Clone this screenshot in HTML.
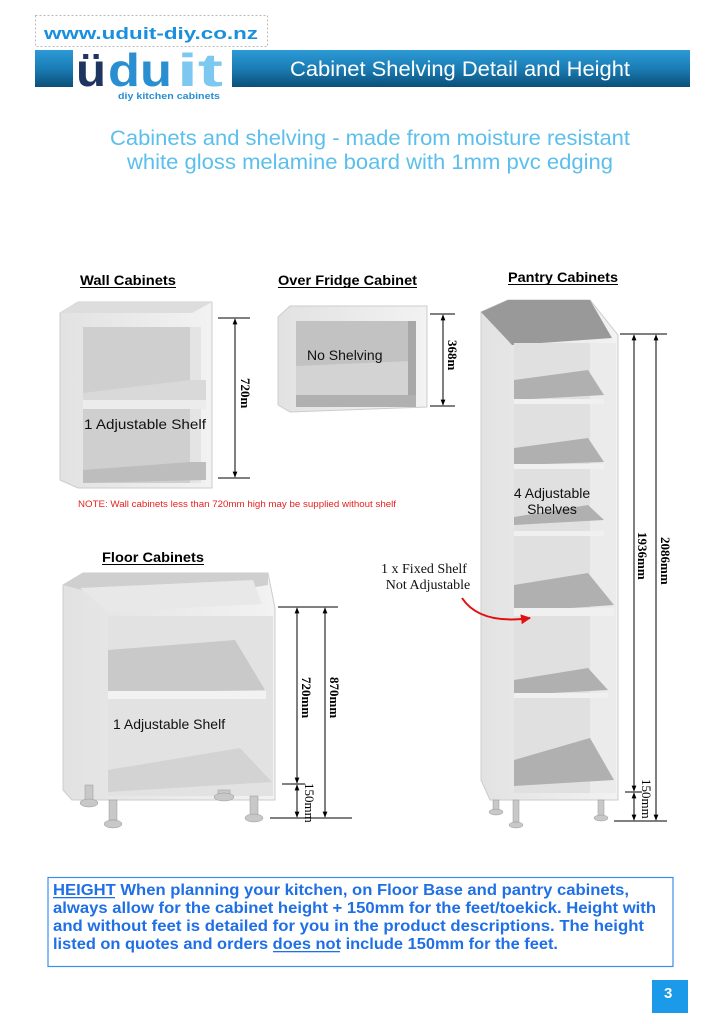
<!DOCTYPE html>
<html><head><meta charset="utf-8"><style>
html,body{margin:0;padding:0;background:#fff}
svg{display:block}
text{font-family:"Liberation Sans",sans-serif}
.serif{font-family:"Liberation Serif",serif}
</style></head><body>
<svg width="724" height="1024" viewBox="0 0 724 1024" xmlns="http://www.w3.org/2000/svg">
<defs>
<linearGradient id="bn" x1="0" y1="0" x2="0" y2="1">
<stop offset="0" stop-color="#2d9ad6"/><stop offset="0.5" stop-color="#1a7db5"/><stop offset="1" stop-color="#0c4f78"/>
</linearGradient>
<linearGradient id="side" x1="0" y1="0" x2="1" y2="0">
<stop offset="0" stop-color="#e2e2e2"/><stop offset="1" stop-color="#f2f2f2"/>
</linearGradient>
<marker id="ar" viewBox="0 0 10 10" refX="9" refY="5" markerWidth="6" markerHeight="6" orient="auto-start-reverse"><path d="M0,1 L10,5 L0,9 z" fill="#000"/></marker>
<marker id="rar" viewBox="0 0 10 10" refX="9" refY="5" markerWidth="5" markerHeight="5" orient="auto"><path d="M0,0 L10,5 L0,10 z" fill="#e01010"/></marker>
</defs>

<!-- header -->
<rect x="35.5" y="15.5" width="232" height="31" fill="none" stroke="#bbb" stroke-dasharray="2,2"/>
<text x="151" y="39" text-anchor="middle" font-size="17" font-weight="bold" fill="#1a8fe0" textLength="214" lengthAdjust="spacingAndGlyphs">www.uduit-diy.co.nz</text>
<rect x="35" y="50" width="38" height="37" fill="url(#bn)"/>
<rect x="232" y="50" width="458" height="37" fill="url(#bn)"/>
<text x="76" y="86" font-size="46" font-weight="bold" fill="#1e3560" textLength="30" lengthAdjust="spacingAndGlyphs">ü</text>
<text x="108" y="86" font-size="46" font-weight="bold" fill="#2a8fd0" textLength="64" lengthAdjust="spacingAndGlyphs">du</text>
<text x="177" y="86" font-size="46" font-weight="bold" fill="#7cc8f0" textLength="46" lengthAdjust="spacingAndGlyphs">it</text>
<text x="118" y="99" font-size="9" font-weight="bold" fill="#2a8fd0" textLength="102" lengthAdjust="spacingAndGlyphs">diy kitchen cabinets</text>
<text x="460" y="76" text-anchor="middle" font-size="21" fill="#fff" textLength="340" lengthAdjust="spacingAndGlyphs">Cabinet Shelving Detail and Height</text>

<text x="370" y="145" text-anchor="middle" font-size="21" fill="#5bbfec" textLength="520" lengthAdjust="spacingAndGlyphs">Cabinets and shelving - made from moisture resistant</text>
<text x="370" y="169" text-anchor="middle" font-size="21" fill="#5bbfec" textLength="486" lengthAdjust="spacingAndGlyphs">white gloss melamine board with 1mm pvc edging</text>

<!-- headings -->
<g font-size="14" font-weight="bold" fill="#000">
<text x="80" y="285" textLength="96" lengthAdjust="spacingAndGlyphs">Wall Cabinets</text><rect x="80" y="287" width="96" height="1"/>
<text x="278" y="285" textLength="139" lengthAdjust="spacingAndGlyphs">Over Fridge Cabinet</text><rect x="278" y="287" width="139" height="1"/>
<text x="508" y="282" textLength="110" lengthAdjust="spacingAndGlyphs">Pantry Cabinets</text><rect x="508" y="284" width="110" height="1"/>
<text x="102" y="562" textLength="102" lengthAdjust="spacingAndGlyphs">Floor Cabinets</text><rect x="102" y="564" width="102" height="1"/>
</g>

<!-- wall cabinet -->
<polygon points="60,313 78,302 212,302 212,488 78,488 60,480" fill="url(#side)" stroke="#ccc"/>
<polygon points="60,313 78,302 212,302 192,313" fill="#ddd"/>
<rect x="83" y="327" width="118" height="156" fill="#cfcfcf"/>
<rect x="190" y="327" width="11" height="156" fill="#e4e4e4"/>
<polygon points="83,393 190,380 206,380 206,400 83,408" fill="#d9d9d9"/>
<rect x="83" y="400" width="123" height="9" fill="#ececec"/>
<polygon points="83,470 190,462 206,462 206,480 83,483" fill="#bdbdbd"/>
<text x="84" y="429" font-size="14" fill="#111" textLength="122" lengthAdjust="spacingAndGlyphs">1  Adjustable Shelf</text>
<line x1="218" y1="318" x2="250" y2="318" stroke="#000"/>
<line x1="218" y1="478" x2="250" y2="478" stroke="#000"/>
<line x1="235" y1="319" x2="235" y2="477" stroke="#000" marker-start="url(#ar)" marker-end="url(#ar)"/>
<text class="serif" transform="translate(241,378) rotate(90)" font-size="13" font-weight="bold" fill="#000">720m</text>
<text x="78" y="507" font-size="9" fill="#e82020" textLength="318" lengthAdjust="spacingAndGlyphs">NOTE: Wall cabinets less than 720mm high may be supplied without shelf</text>

<!-- over fridge -->
<polygon points="278,317 290,306 427,306 427,407 290,412 278,405" fill="url(#side)" stroke="#ccc"/>
<rect x="296" y="321" width="119" height="86" fill="#d3d3d3"/>
<polygon points="296,321 412,321 412,361 296,366" fill="#c2c2c2"/>
<rect x="408" y="321" width="8" height="86" fill="#a8a8a8"/>
<rect x="296" y="395" width="120" height="12" fill="#b0b0b0"/>
<text x="307" y="360" font-size="14" fill="#111">No Shelving</text>
<line x1="430" y1="314" x2="455" y2="314" stroke="#000"/>
<line x1="430" y1="406" x2="455" y2="406" stroke="#000"/>
<line x1="443" y1="315" x2="443" y2="405" stroke="#000" marker-start="url(#ar)" marker-end="url(#ar)"/>
<text class="serif" transform="translate(448,340) rotate(90)" font-size="13" font-weight="bold" fill="#000">368m</text>

<!-- pantry -->
<polygon points="481,312 508,300 590,300 618,335 618,800 490,800 481,780" fill="url(#side)" stroke="#ccc"/>
<polygon points="481,312 508,300 590,300 612,338 512,345" fill="#999"/>
<rect x="514" y="343" width="102" height="450" fill="#e0e0e0"/>
<rect x="590" y="343" width="26" height="450" fill="#ebebeb"/>
<g fill="#b0b0b0">
<polygon points="514,380 588,370 604,395 514,400"/>
<polygon points="514,448 588,438 604,462 514,465"/>
<polygon points="514,517 588,505 604,520 514,525"/>
<polygon points="514,585 588,573 614,605 514,612"/>
<polygon points="514,680 588,668 608,690 514,695"/>
<polygon points="514,760 590,738 614,780 514,786"/>
</g>
<g fill="#f0f0f0">
<rect x="514" y="399" width="90" height="5"/><rect x="514" y="464" width="90" height="5"/>
<rect x="514" y="531" width="90" height="5"/><rect x="514" y="608" width="100" height="8"/>
<rect x="514" y="693" width="94" height="5"/>
</g>
<text x="552" y="498" text-anchor="middle" font-size="14" fill="#111">4 Adjustable</text>
<text x="552" y="514" text-anchor="middle" font-size="14" fill="#111">Shelves</text>
<g fill="#c8c8c8" stroke="#999" stroke-width="0.5">
<rect x="493" y="800" width="6" height="12"/><ellipse cx="496" cy="812" rx="7" ry="3"/>
<rect x="513" y="800" width="6" height="22"/><ellipse cx="516" cy="825" rx="7" ry="3"/>
<rect x="598" y="800" width="6" height="18"/><ellipse cx="601" cy="818" rx="7" ry="3"/>
</g>
<line x1="620" y1="334" x2="667" y2="334" stroke="#000"/>
<line x1="625" y1="792" x2="642" y2="792" stroke="#000"/>
<line x1="614" y1="821" x2="667" y2="821" stroke="#000"/>
<line x1="634" y1="335" x2="634" y2="791" stroke="#000" marker-start="url(#ar)" marker-end="url(#ar)"/>
<line x1="634" y1="793" x2="634" y2="820" stroke="#000" marker-start="url(#ar)" marker-end="url(#ar)"/>
<line x1="656" y1="335" x2="656" y2="820" stroke="#000" marker-start="url(#ar)" marker-end="url(#ar)"/>
<text class="serif" transform="translate(638,532) rotate(90)" font-size="13" font-weight="bold" fill="#000">1936mm</text>
<text class="serif" transform="translate(661,537) rotate(90)" font-size="13" font-weight="bold" fill="#000">2086mm</text>
<text class="serif" transform="translate(642,779) rotate(90)" font-size="13" fill="#000">150mm</text>
<text class="serif" x="424" y="573" text-anchor="middle" font-size="14" fill="#111">1 x Fixed Shelf</text>
<text class="serif" x="428" y="589" text-anchor="middle" font-size="14" fill="#111">Not Adjustable</text>
<path d="M462,598 Q480,625 530,618" fill="none" stroke="#e01010" stroke-width="2" marker-end="url(#rar)"/>

<!-- floor cabinet -->
<polygon points="63,585 83,573 268,573 275,608 275,800 72,800 63,790" fill="url(#side)" stroke="#ccc"/>
<polygon points="63,585 83,573 268,573 268,585 108,610 100,595" fill="#cfcfcf"/>
<polygon points="80,588 253,580 262,604 108,612" fill="#e8e8e8"/>
<rect x="108" y="616" width="165" height="180" fill="#e2e2e2"/>
<polygon points="108,650 235,640 265,690 108,693" fill="#c9c9c9"/>
<rect x="108" y="691" width="158" height="8" fill="#f2f2f2"/>
<polygon points="108,770 240,748 272,782 108,792" fill="#d3d3d3"/>
<text x="113" y="729" font-size="14" fill="#111">1 Adjustable Shelf</text>
<g fill="#c8c8c8" stroke="#999" stroke-width="0.5">
<rect x="85" y="785" width="8" height="15"/><ellipse cx="89" cy="803" rx="9" ry="4"/>
<rect x="109" y="800" width="8" height="20"/><ellipse cx="113" cy="824" rx="9" ry="4"/>
<rect x="218" y="790" width="12" height="5"/><ellipse cx="224" cy="797" rx="10" ry="4"/>
<rect x="250" y="796" width="8" height="20"/><ellipse cx="254" cy="818" rx="9" ry="4"/>
</g>
<line x1="278" y1="607" x2="338" y2="607" stroke="#000"/>
<line x1="282" y1="784" x2="305" y2="784" stroke="#000"/>
<line x1="270" y1="818" x2="352" y2="818" stroke="#000"/>
<line x1="297" y1="608" x2="297" y2="783" stroke="#000" marker-start="url(#ar)" marker-end="url(#ar)"/>
<line x1="297" y1="785" x2="297" y2="817" stroke="#000" marker-start="url(#ar)" marker-end="url(#ar)"/>
<line x1="325" y1="608" x2="325" y2="817" stroke="#000" marker-start="url(#ar)" marker-end="url(#ar)"/>
<text class="serif" transform="translate(302,677) rotate(90)" font-size="13" font-weight="bold" fill="#000">720mm</text>
<text class="serif" transform="translate(330,677) rotate(90)" font-size="13" font-weight="bold" fill="#000">870mm</text>
<text class="serif" transform="translate(305,783) rotate(90)" font-size="13" fill="#000">150mm</text>

<!-- bottom note -->
<rect x="48" y="877.5" width="625" height="89" fill="none" stroke="#3a8fe8" stroke-width="1.2"/>
<g font-size="16" font-weight="bold" fill="#1f6fe6">
<text x="53" y="895" textLength="576" lengthAdjust="spacingAndGlyphs">HEIGHT  When planning your kitchen, on Floor Base and pantry cabinets,</text>
<rect x="53" y="897" width="62" height="1.3"/>
<text x="53" y="913" textLength="603" lengthAdjust="spacingAndGlyphs">always allow for the cabinet height  + 150mm for the feet/toekick. Height with</text>
<text x="53" y="931" textLength="591" lengthAdjust="spacingAndGlyphs">and without feet is  detailed for you in the product descriptions. The height</text>
<text x="53" y="949" textLength="505" lengthAdjust="spacingAndGlyphs">listed on quotes and orders does not include 150mm for the feet.</text>
<rect x="273" y="951" width="67" height="1.3"/>
</g>
<rect x="652" y="980" width="36" height="33" fill="#1a9ae8"/>
<text x="664" y="998" font-size="15" font-weight="bold" fill="#fff">3</text>
</svg>
</body></html>
